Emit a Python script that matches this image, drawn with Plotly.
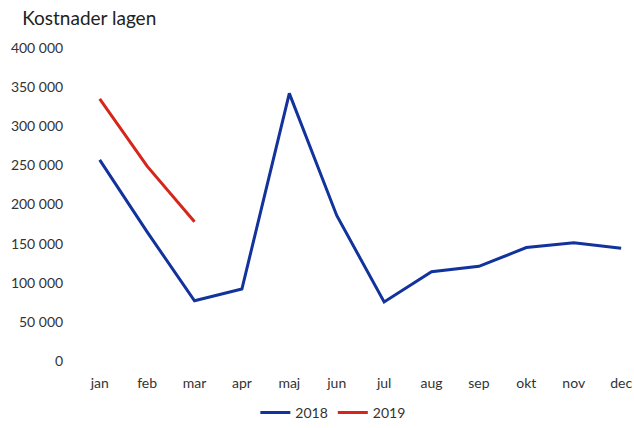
import plotly.graph_objects as go

months = ["jan", "feb", "mar", "apr", "maj", "jun", "jul", "aug", "sep", "okt", "nov", "dec"]
values_2018 = [257000, 165000, 77000, 92000, 342000, 186000, 75500, 114000, 121000, 145000, 151000, 144000]
values_2019 = [335000, 249000, 178000]
y_ticks = [0, 50000, 100000, 150000, 200000, 250000, 300000, 350000, 400000]

fig = go.Figure()
fig.add_trace(go.Scatter(x=months, y=values_2018, mode="lines", name="2018",
                         line=dict(color="#12329c", width=3)))
fig.add_trace(go.Scatter(x=months[:len(values_2019)], y=values_2019, mode="lines", name="2019",
                         line=dict(color="#d6261a", width=3)))

fig.update_layout(
    width=634, height=428,
    margin=dict(l=76, r=1, t=48, b=67),
    paper_bgcolor="white", plot_bgcolor="white",
    separators=", ",
    font=dict(family="Lato, Open Sans, sans-serif", size=14, color="#333333"),
    title=dict(text="Kostnader lagen", x=0.035, xanchor="left", y=0.958, yanchor="middle",
               font=dict(size=19, color="#222222")),
    showlegend=True,
    legend=dict(orientation="h", xref="container", x=0.525, xanchor="center",
                yref="container", y=0.035, yanchor="middle",
                font=dict(size=14, color="#333333")),
    xaxis=dict(categoryorder="array", categoryarray=months, range=[-0.5, 11.25],
               showgrid=False, zeroline=False, showline=False, automargin=False,
               tickfont=dict(size=14), ticks="outside", ticklen=9, tickcolor="rgba(0,0,0,0)"),
    yaxis=dict(range=[0, 400000], tickvals=y_ticks, tickformat=",d", automargin=False,
               showgrid=False, zeroline=False, showline=False,
               tickfont=dict(size=14), ticks="outside", ticklen=9, tickcolor="rgba(0,0,0,0)"),
)

fig.write_html("out.html", config={"displayModeBar": False},
               post_script="document.body.style.margin='0';")
